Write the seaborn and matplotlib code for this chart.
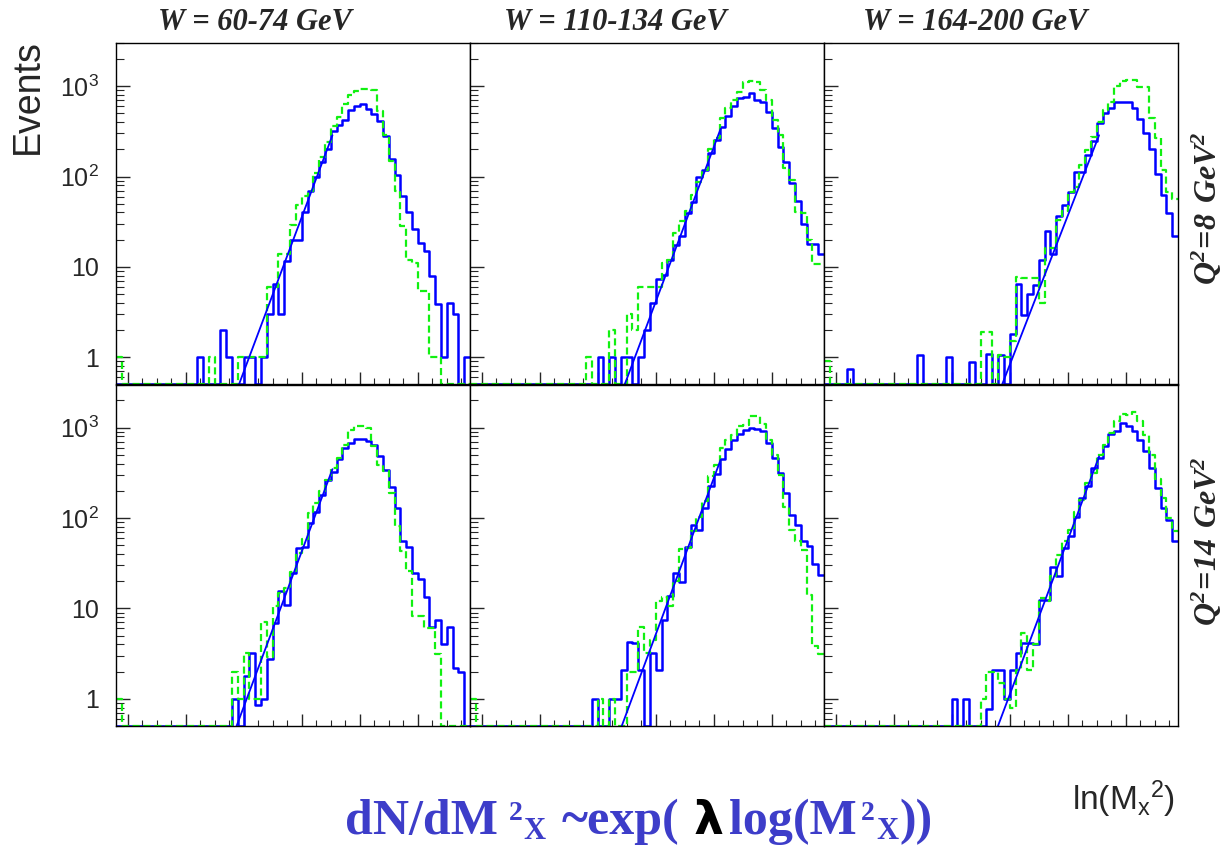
import numpy as np
import pandas as pd
import matplotlib
matplotlib.use("Agg")
import matplotlib.pyplot as plt
from matplotlib.ticker import MultipleLocator, FixedLocator, LogLocator, NullFormatter
import seaborn as sns

# ---- data ----
# ln(Mx^2) binning, 61 bins of width 0.2
x_lo, x_hi, bin_w = -0.4, 11.8, 0.2
y_lo, y_hi = 0.5, 3000

w_titles = ["W = 60-74 GeV", "W = 110-134 GeV", "W = 164-200 GeV"]
q2_labels = [r"$\mathregular{Q^2\!=\!8\ GeV^2}$", r"$\mathregular{Q^2\!=\!14\ GeV^2}$"]
y_ticks = [1, 10, 100, 1000]
y_ticklabels = ["1", "10", r"$\mathregular{10^2}$", r"$\mathregular{10^3}$"]

# top row (Q2 = 8)
p1_blue = [0]*14 + [1, 0, 0, 0, 2, 1, 0, 0, 1, 1, 0, 1, 3, 6.5, 3, 11.6, 20, 20, 41, 69, 100, 145,
                    204, 317, 371, 420, 550, 600, 640, 560, 490, 410, 280, 155, 104, 61, 41, 26,
                    18.5, 15, 8, 3.9, 1, 4, 3, 0, 1]
p1_green = [1] + [0]*15 + [1, 0, 0, 0, 0, 1, 1, 1, 1, 1, 6, 6, 14, 14, 29, 48, 61, 69, 108, 165,
                           240, 360, 460, 630, 800, 880, 920, 930, 900, 530, 285, 150, 70, 28, 12,
                           11, 5.4, 5.4, 1, 1, 0, 0, 0, 0, 0]
p2_blue = [0]*22 + [1, 0, 1, 0, 1, 1, 0, 1, 2, 4, 7.4, 8.1, 11.9, 17.4, 22, 39, 52, 99, 118, 183,
                    253, 350, 465, 600, 740, 750, 830, 700, 670, 520, 340, 213, 145, 85, 54, 30,
                    18, 18, 14]
p2_green = [0]*20 + [1, 0, 0, 0, 2, 0, 0, 3, 2, 6, 6, 6, 6, 11, 12, 24, 32, 42, 62, 87, 118, 204,
                     264, 440, 570, 700, 870, 1100, 1150, 1120, 910, 700, 420, 285, 123, 91, 41,
                     39, 20, 10.7, 10.7]
p3_blue = [0]*4 + [0.75] + [0]*11 + [1.05, 0, 0, 0, 0, 1, 0, 0, 0, 0.89, 0, 0, 1.1, 0, 1.05, 0,
                                     1.8, 6.5, 2.9, 5, 6.3, 11.8, 25, 14, 37, 48, 68, 113, 113,
                                     172, 246, 386, 510, 570, 670, 670, 670, 570, 430, 300, 200,
                                     106, 63, 39, 22]
p3_green = [0.9] + [0]*26 + [1.9, 1.9, 0, 1.05, 1, 1.5, 7.8, 7.5, 7.5, 7.5, 4, 16, 16, 33, 42, 68,
                             76, 134, 195, 275, 400, 540, 670, 1000, 1140, 1180, 1180, 990, 990,
                             440, 270, 118, 68, 56]
# bottom row (Q2 = 14)
p4_blue = [0]*20 + [1, 0, 1.8, 3.2, 0.85, 1, 2.75, 6.9, 15.4, 10.8, 24.6, 46, 48, 88, 118, 182,
                    265, 320, 445, 595, 675, 755, 755, 720, 645, 480, 337, 218, 129, 55, 48, 24.6,
                    21, 13.5, 6.3, 7.4, 4, 6.3, 2.2, 2, 0]
p4_green = [1] + [0]*19 + [2, 1, 3.2, 1, 1, 7, 2.9, 10.5, 14.8, 17, 25, 41, 59, 114, 147, 198, 265,
                           357, 460, 650, 950, 1030, 1050, 1000, 630, 390, 330, 190, 81, 43, 26,
                           8.2, 8.2, 6.1, 6.1, 3.1, 0, 0, 0, 0, 0]
p5_blue = [0]*21 + [1, 0, 0, 1, 1, 2.1, 4.3, 4.1, 2.1, 0, 3.2, 2.1, 7.5, 13.8, 24.6, 19.4, 48, 84,
                    73, 129, 228, 303, 445, 575, 735, 850, 950, 1000, 970, 910, 675, 460, 315,
                    190, 109, 84, 55, 49, 31, 23.6]
p5_green = [1] + [0]*21 + [1, 0, 1, 0, 0, 2, 2, 6.3, 3.2, 4.5, 12, 13.5, 10.5, 20, 45, 46, 71, 102,
                           153, 288, 390, 595, 735, 830, 1030, 1070, 1350, 1350, 1090, 725, 500,
                           300, 134, 73, 56, 44, 14, 3.8, 3.1]
p6_blue = [0]*22 + [1, 0, 1, 0, 0, 0, 0.77, 2.06, 2.06, 1, 2.06, 3.2, 4.1, 4.1, 4, 12.3, 12.3,
                    28.6, 23, 46.6, 63, 102, 166, 228, 358, 460, 620, 850, 910, 1130, 1050, 910,
                    735, 550, 358, 215, 129, 96, 56]
p6_green = [0]*27 + [1, 2, 2, 1.5, 1, 0.8, 2.1, 5.3, 2.1, 4, 13, 12, 22.6, 39, 55, 74, 118, 160,
                     245, 315, 500, 650, 870, 1170, 1420, 1380, 1480, 1170, 830, 500, 270, 166,
                     99, 71]

blue_hists = [p1_blue, p2_blue, p3_blue, p4_blue, p5_blue, p6_blue]
green_hists = [p1_green, p2_green, p3_green, p4_green, p5_green, p6_green]

# exp(lambda * ln Mx^2) fits: range, value at upper end, slope
fit_start = [3.83, 4.93, 5.74, 3.77, 4.84, 5.59]
fit_end = [7.06, 8.24, 9.08, 7.06, 8.24, 9.08]
fit_end_val = [286, 339, 286, 347, 443, 479]
fit_lambda = [1.97, 1.97, 1.90, 1.98, 1.99, 1.97]

# ---- drawing ----
sns.set_theme(style="ticks")
plt.rcParams["font.family"] = ["Liberation Sans", "DejaVu Sans"]
plt.rcParams["axes.edgecolor"] = "black"
plt.rcParams["axes.linewidth"] = 1.0

W, H = 1229, 847
fig = plt.figure(figsize=(W / 100, H / 100), dpi=100)
gs = fig.add_gridspec(2, 3, left=116 / W, right=1178 / W, bottom=1 - 726 / H, top=1 - 43 / H,
                      wspace=0, hspace=0)

edges = np.arange(x_lo, x_hi + bin_w / 2, bin_w)
centers = edges[:-1] + bin_w / 2

for i in range(6):
    r, c = divmod(i, 3)
    ax = fig.add_subplot(gs[r, c])
    blue = np.array(blue_hists[i], dtype=float)
    green = np.array(green_hists[i], dtype=float)
    # empty bins sit on the bottom of the frame, as in the original
    df = pd.DataFrame({"lnM2": centers,
                       "blue": np.where(blue > 0, blue, y_lo),
                       "green": np.where(green > 0, green, y_lo)})

    sns.histplot(data=df, x="lnM2", weights="blue", bins=list(edges), element="step",
                 fill=False, color="#0000ff", linewidth=1.8, ax=ax)
    sns.histplot(data=df, x="lnM2", weights="green", bins=list(edges), element="step",
                 fill=False, color="#11f011", linewidth=1.6, linestyle=(0, (3.2, 1.7)), ax=ax)

    xs = np.linspace(fit_start[i] - 0.05, fit_end[i], 60)
    ys = fit_end_val[i] * np.exp(fit_lambda[i] * (xs - fit_end[i]))
    sns.lineplot(x=xs, y=ys, color="#0000ff", linewidth=1.3, ax=ax)

    ax.set_yscale("log")
    ax.set_xlim(x_lo, x_hi)
    ax.set_ylim(y_lo, y_hi)
    ax.set_xlabel("")
    ax.set_ylabel("")

    ax.xaxis.set_major_locator(MultipleLocator(2))
    ax.xaxis.set_minor_locator(MultipleLocator(0.5))
    ax.yaxis.set_major_locator(FixedLocator(y_ticks))
    ax.yaxis.set_minor_locator(LogLocator(base=10, subs=np.arange(2, 10)))
    ax.yaxis.set_minor_formatter(NullFormatter())
    ax.tick_params(axis="x", which="major", direction="in", length=8.5, width=1.0,
                   labelbottom=False, top=False)
    ax.tick_params(axis="x", which="minor", direction="in", length=4.3, width=0.8, top=False)
    ax.tick_params(axis="y", which="major", direction="in", length=10, width=1.0, right=False,
                   pad=12, labelsize=18)
    ax.tick_params(axis="y", which="minor", direction="in", length=6, width=0.8, right=False)
    if c == 0:
        ax.set_yticklabels(y_ticklabels)
    else:
        ax.tick_params(axis="y", labelleft=False)
    for s in ax.spines.values():
        s.set_color("black")
        s.set_linewidth(1.0)

serif = ["Liberation Serif", "DejaVu Serif"]
title_x = [255, 615, 975]
for t, xc in zip(w_titles, title_x):
    fig.text(xc / W, 1 - 23 / H, t, ha="center", va="center", fontsize=22,
             family=serif, weight="bold", style="italic")

for lab, yc in zip(q2_labels, [208, 541]):
    fig.text(1207 / W, 1 - yc / H, lab, ha="center", va="center", rotation=90, fontsize=23,
             family=serif, weight="bold", style="italic")

fig.text(28 / W, 1 - 97 / H, "Events", ha="center", va="center", rotation=90, fontsize=27)
fig.text(1072 / W, 1 - 810 / H, r"$\mathregular{ln(M_x{}^2)}$", ha="left", va="baseline",
         fontsize=24)

# formula at the bottom, laid out piece by piece
blue_txt = "#3d3dc9"
pieces = [
    ("dN/dM", 36, 834, 0, blue_txt, serif, "bold"),
    ("2", 20, 820, 11, blue_txt, serif, "bold"),
    ("X", 22, 839, 1, blue_txt, serif, "bold"),
    ("~exp(", 36, 834, 16, blue_txt, serif, "bold"),
    ("\u03bb", 34, 834, 14, "black", ["DejaVu Sans"], "bold"),
    ("log(M", 36, 834, 6, blue_txt, serif, "bold"),
    ("2", 20, 820, 4, blue_txt, serif, "bold"),
    ("X", 22, 839, 1, blue_txt, serif, "bold"),
    ("))", 36, 834, 1, blue_txt, serif, "bold"),
]
renderer = fig.canvas.get_renderer()
xpos = 345
for txt, size, base, gap, col, fam, wt in pieces:
    xpos += gap
    t = fig.text(xpos / W, 1 - base / H, txt, ha="left", va="baseline", fontsize=size,
                 color=col, family=fam, weight=wt)
    bb = t.get_window_extent(renderer)
    xpos = bb.x1

fig.savefig("out.png", dpi=100)
